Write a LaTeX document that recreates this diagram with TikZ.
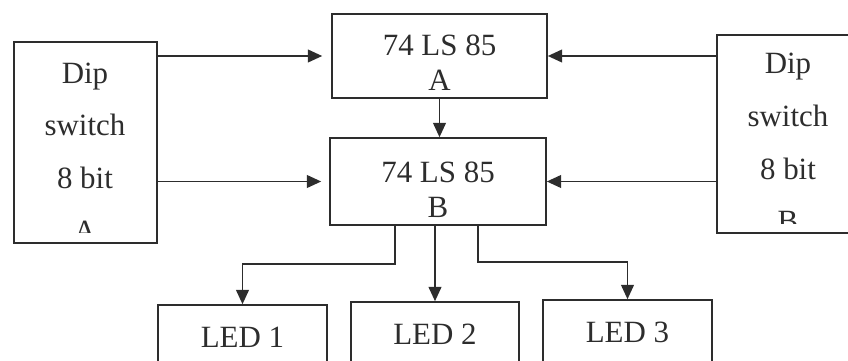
\documentclass[tikz,border=0pt]{standalone}
\usepackage{fontspec}
\setmainfont{Liberation Serif}
\usetikzlibrary{arrows.meta}
\definecolor{ink}{RGB}{45,45,45}
\begin{document}
\begin{tikzpicture}[x=0.025cm, y=-0.025cm,
        box/.style={draw=ink, line width=1.1pt, inner sep=0pt},
        txt/.style={text=ink, align=center, inner sep=0pt, font=\fontsize{22}{25}\selectfont},
        diptxt/.style={txt, font=\fontsize{22}{37.5}\selectfont},
        link/.style={draw=ink, line width=1.3pt, -{Triangle[length=0.36cm, width=0.32cm]}}]
        \useasboundingbox (0,0) rectangle (848,361);
        \clip (0,0) rectangle (848,361);
        \node[box, minimum width=3.575cm, minimum height=5.025cm] (dipA) at (85.5,142.5) {};
        \node[box, minimum width=3.575cm, minimum height=4.95cm] (dipB) at (788.5,134) {};
        \node[box, minimum width=5.375cm, minimum height=2.1cm] (lsA) at (439.5,56) {};
        \node[box, minimum width=5.4cm, minimum height=2.175cm] (lsB) at (438,181.5) {};
        \node[txt] (lsAtxt) at (439.5,62.5) {74 LS 85\\A};
        \node[txt] (lsBtxt) at (438,190) {74 LS 85\\B};
        \begin{scope}
            \clip (dipA.north west) rectangle ([yshift=0.275cm]dipA.south east);
            \node[diptxt] (dipAtxt) at (85,152) {Dip\\switch\\8 bit\\A};
        \end{scope}
        \begin{scope}
            \clip (dipB.north west) rectangle ([yshift=0.25cm]dipB.south east);
            \node[diptxt] (dipBtxt) at (788,142.5) {Dip\\switch\\8 bit\\B};
        \end{scope}
        \node[box, txt, draw=ink, minimum width=4.225cm, minimum height=1.6cm] (led1) at (242.5,337) {LED 1};
        \node[box, txt, draw=ink, minimum width=4.2cm, minimum height=1.6cm] (led2) at (435,334) {LED 2};
        \node[box, txt, draw=ink, minimum width=4.225cm, minimum height=1.6cm] (led3) at (627.5,332) {LED 3};
        \draw[link, shorten >=0.225cm] (lsA.west -| dipA.east) -- (lsA.west);
        \draw[link, shorten >=0.2cm] (lsB.west -| dipA.east) -- (lsB.west);
        \draw[link] (lsA.east -| dipB.west) -- (lsA.east);
        \draw[link] (lsB.east -| dipB.west) -- (lsB.east);
        \draw[link] (lsA.south) -- (lsA.south |- lsB.north);
        \draw[link] ([xshift=-1.075cm]lsB.south) -- ++(0,38) -| (led1.north);
        \draw[link] (lsB.south -| led2.north) -- (led2.north);
        \draw[link] ([xshift=1cm]lsB.south) -- ++(0,36) -| (led3.north);
\end{tikzpicture}
\end{document}
